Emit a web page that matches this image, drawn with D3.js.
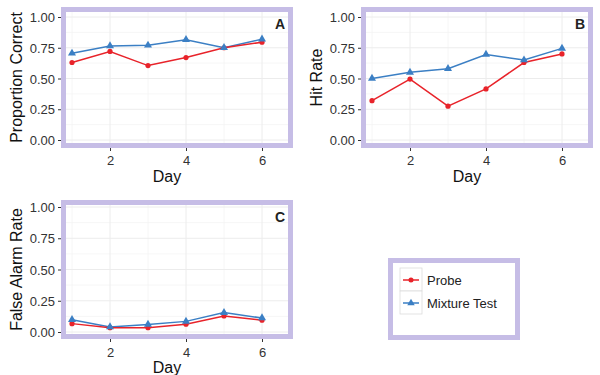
<!DOCTYPE html>
<html>
<head>
<meta charset="utf-8">
<script src="https://cdn.jsdelivr.net/npm/d3@7"></script>
<style>
  body { margin: 0; background: #fff; }
  svg { font-family: "Liberation Sans", Arial, sans-serif; }
  .tick text { fill: #333; font-size: 13px; }
  .tick line { stroke: #333; }
  .axis-label { font-size: 16px; fill: #111; }
</style>
</head>
<body>
<div id="chart"></div>
<script>
const days = [1, 2, 3, 4, 5, 6];
const xTicks = [2, 4, 6];
const yTicks = [0, 0.25, 0.5, 0.75, 1];
const seriesNames = ["Probe", "Mixture Test"];

const probeCorrect = [0.63, 0.72, 0.605, 0.67, 0.75, 0.795];
const mixtureCorrect = [0.705, 0.765, 0.77, 0.815, 0.75, 0.82];
const probeHit = [0.32, 0.495, 0.275, 0.415, 0.63, 0.70];
const mixtureHit = [0.50, 0.55, 0.58, 0.695, 0.65, 0.745];
const probeFA = [0.067, 0.035, 0.035, 0.062, 0.128, 0.094];
const mixtureFA = [0.098, 0.04, 0.06, 0.085, 0.155, 0.112];

const COLORS = { probe: "#e8232a", mix: "#3b7fc4", frame: "#c6bde6", grid: "#ececec" };

const svg = d3.select("#chart").append("svg").attr("width", 600).attr("height", 375);

const panels = [
  { tag: "A", label: "Proportion Correct", probe: probeCorrect, mix: mixtureCorrect,
    ox: 0, top: 17, bottom: 140, frame: [61, 7, 293, 148], dayY: 182, tickY: 165 },
  { tag: "B", label: "Hit Rate", probe: probeHit, mix: mixtureHit,
    ox: 300, top: 17, bottom: 140, frame: [361, 7, 593, 148], dayY: 182, tickY: 165 },
  { tag: "C", label: "False Alarm Rate", probe: probeFA, mix: mixtureFA,
    ox: 0, top: 207, bottom: 332, frame: [61, 200, 293, 339], dayY: 373, tickY: 357 }
];

panels.forEach(p => {
  const g = svg.append("g");
  const [fx0, fy0, fx1, fy1] = p.frame;
  const x = d3.scaleLinear().domain([1, 6]).range([p.ox + 72, p.ox + 262]);
  const y = d3.scaleLinear().domain([0, 1]).range([p.bottom, p.top]);

  // grid
  const minorY = d3.range(0.125, 1.1, 0.25);
  g.selectAll(".gy-minor").data(minorY).join("line")
    .attr("x1", fx0).attr("x2", fx1).attr("y1", d => y(d)).attr("y2", d => y(d))
    .attr("stroke", "#f4f4f4").attr("stroke-width", 0.8);
  g.selectAll(".gx-minor").data([1, 3, 5]).join("line")
    .attr("y1", fy0).attr("y2", fy1).attr("x1", d => x(d)).attr("x2", d => x(d))
    .attr("stroke", "#f4f4f4").attr("stroke-width", 0.8);
  g.selectAll(".gy").data(yTicks).join("line")
    .attr("x1", fx0).attr("x2", fx1).attr("y1", d => y(d)).attr("y2", d => y(d))
    .attr("stroke", COLORS.grid).attr("stroke-width", 1);
  g.selectAll(".gx").data(xTicks).join("line")
    .attr("y1", fy0).attr("y2", fy1).attr("x1", d => x(d)).attr("x2", d => x(d))
    .attr("stroke", COLORS.grid).attr("stroke-width", 1);

  // axes
  const yAxis = g.append("g").attr("transform", `translate(${fx0},0)`)
    .call(d3.axisLeft(y).tickValues(yTicks).tickFormat(d3.format(".2f")).tickSize(3).tickPadding(3));
  yAxis.select(".domain").remove();
  yAxis.selectAll(".tick text").attr("dy", "0.36em");

  const xAxis = g.append("g").attr("transform", `translate(0,${fy1})`)
    .call(d3.axisBottom(x).tickValues(xTicks).tickFormat(d3.format("d")).tickSize(3).tickPadding(3));
  xAxis.select(".domain").remove();
  xAxis.selectAll(".tick text").attr("y", p.tickY - fy1).attr("dy", 0);

  g.append("text").attr("class", "axis-label")
    .attr("x", x(3.5)).attr("y", p.dayY).attr("text-anchor", "middle").text("Day");
  g.append("text").attr("class", "axis-label")
    .attr("transform", `translate(${p.ox + 22},${(fy0 + fy1) / 2}) rotate(-90)`)
    .attr("text-anchor", "middle").text(p.label);

  // lines
  const line = d3.line().x((d, i) => x(days[i])).y(d => y(d));
  g.append("path").datum(p.mix).attr("d", line).attr("fill", "none")
    .attr("stroke", COLORS.mix).attr("stroke-width", 1.5);
  g.append("path").datum(p.probe).attr("d", line).attr("fill", "none")
    .attr("stroke", COLORS.probe).attr("stroke-width", 1.5);
  g.selectAll(".pt-probe").data(p.probe).join("circle")
    .attr("cx", (d, i) => x(days[i])).attr("cy", d => y(d)).attr("r", 2.6)
    .attr("fill", COLORS.probe);
  g.selectAll(".pt-mix").data(p.mix).join("path")
    .attr("d", d3.symbol(d3.symbolTriangle, 28))
    .attr("transform", (d, i) => `translate(${x(days[i])},${y(d)})`)
    .attr("fill", COLORS.mix);

  // frame
  g.append("rect").attr("x", fx0 + 2.5).attr("y", fy0 + 2.5)
    .attr("width", fx1 - fx0 - 5).attr("height", fy1 - fy0 - 5)
    .attr("fill", "none").attr("stroke", COLORS.frame).attr("stroke-width", 5);

  g.append("text").attr("x", fx1 - 13).attr("y", fy0 + 22)
    .attr("text-anchor", "middle").attr("font-size", 14).attr("font-weight", 600)
    .attr("fill", "#222").text(p.tag);
});

// legend
const lg = svg.append("g");
lg.append("rect").attr("x", 390.5).attr("y", 260.5).attr("width", 127).attr("height", 77)
  .attr("fill", "#fff").attr("stroke", COLORS.frame).attr("stroke-width", 5);
const legendItems = [
  { name: seriesNames[0], color: COLORS.probe, shape: "circle" },
  { name: seriesNames[1], color: COLORS.mix, shape: "triangle" }
];
const rows = lg.selectAll(".row").data(legendItems).join("g")
  .attr("transform", (d, i) => `translate(400,${268 + i * 23})`);
rows.append("rect").attr("width", 22).attr("height", 23)
  .attr("fill", "#fff").attr("stroke", "#dcdcdc").attr("stroke-width", 0.8);
rows.append("line").attr("x1", 3).attr("x2", 19).attr("y1", 12).attr("y2", 12)
  .attr("stroke", d => d.color).attr("stroke-width", 1.5);
rows.append("path")
  .attr("d", d => d3.symbol(d.shape === "circle" ? d3.symbolCircle : d3.symbolTriangle, d.shape === "circle" ? 20 : 24)())
  .attr("transform", "translate(11,12)").attr("fill", d => d.color);
rows.append("text").attr("x", 27).attr("y", 16.5).attr("font-size", 13).attr("fill", "#222")
  .text(d => d.name);
</script>
</body>
</html>
